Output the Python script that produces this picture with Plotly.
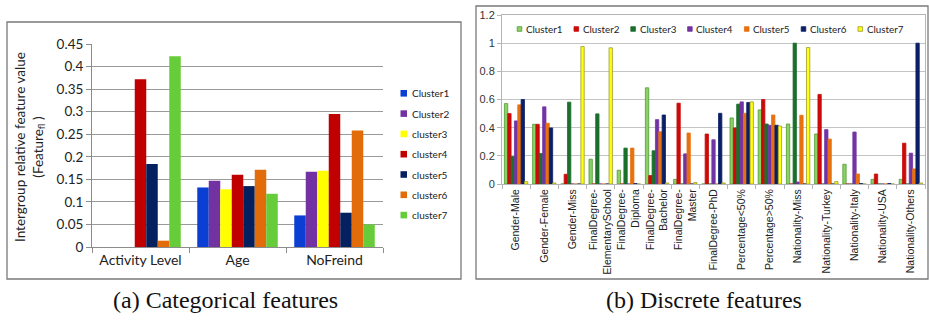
import plotly.graph_objects as go

W, H = 929, 320

# ---- (a) Categorical features ----
cat_features = ["Activity Level", "Age", "NoFreind"]
cat_names = ["Cluster1", "Cluster2", "cluster3", "cluster4", "cluster5", "cluster6", "cluster7"]
cat_values = [
    [0.0, 0.132, 0.070],
    [0.0, 0.147, 0.167],
    [0.0, 0.128, 0.169],
    [0.372, 0.160, 0.295],
    [0.184, 0.135, 0.076],
    [0.014, 0.171, 0.258],
    [0.423, 0.118, 0.050],
]
cat_colors = ["#0b3fd3", "#7232a2", "#ffff00", "#c00000", "#05205e", "#e36c0a", "#66cc3a"]

# ---- (b) Discrete features ----
disc_features = [
    "Gender-Male", "Gender-Female", "Gender-Miss",
    "FinalDegree-<br>ElementarySchool", "FinalDegree-<br>Diploma",
    "FinalDegree-<br>Bachelor", "FinalDegree-<br>Master", "FinalDegree-PhD",
    "Percentage<50%", "Percentage>50%", "Nationality-Miss", "Nationality-Turkey",
    "Nationality-Italy", "Nationality-USA", "Nationality-Others",
]
disc_names = ["Cluster1", "Cluster2", "Cluster3", "Cluster4", "Cluster5", "Cluster6", "Cluster7"]
disc_c1 = [0.571, 0.424, 0.0, 0.176, 0.098, 0.683, 0.033, 0.0, 0.469, 0.526, 0.426, 0.355, 0.140, 0.033, 0.033]
disc_c2 = [0.500, 0.424, 0.069, 0.0, 0.0, 0.060, 0.574, 0.355, 0.398, 0.600, 0.0, 0.636, 0.0, 0.071, 0.290]
disc_c3 = [0.195, 0.217, 0.581, 0.498, 0.255, 0.236, 0.0, 0.0, 0.567, 0.426, 1.0, 0.0, 0.0, 0.0, 0.0]
disc_c4 = [0.448, 0.548, 0.0, 0.0, 0.0, 0.457, 0.214, 0.314, 0.583, 0.417, 0.014, 0.386, 0.369, 0.0, 0.219]
disc_c5 = [0.562, 0.431, 0.0, 0.0, 0.255, 0.371, 0.362, 0.0, 0.502, 0.490, 0.488, 0.319, 0.071, 0.0, 0.107]
disc_c6 = [0.600, 0.398, 0.0, 0.0, 0.003, 0.490, 0.0, 0.502, 0.579, 0.417, 0.0, 0.0, 0.003, 0.003, 1.0]
disc_c7 = [0.017, 0.007, 0.976, 0.967, 0.0, 0.007, 0.010, 0.007, 0.583, 0.412, 0.969, 0.017, 0.0, 0.0, 0.007]
disc_values = [disc_c1, disc_c2, disc_c3, disc_c4, disc_c5, disc_c6, disc_c7]
disc_colors = ["#8cd165", "#cc0a0a", "#1b6e2c", "#7233a3", "#e8700f", "#0a1f66", "#ffff10"]
disc_lines = ["#4f9a34", "#cc0a0a", "#1b6e2c", "#7233a3", "#e8700f", "#0a1f66", "#9a9a30"]

fig = go.Figure()

for name, vals, col in zip(cat_names, cat_values, cat_colors):
    fig.add_trace(go.Bar(
        x=cat_features, y=vals, name=name, marker=dict(color=col, line=dict(width=0)),
        xaxis="x", yaxis="y", showlegend=False,
    ))

for name, vals, col, lc in zip(disc_names, disc_values, disc_colors, disc_lines):
    fig.add_trace(go.Bar(
        x=disc_features, y=vals, name=name, marker=dict(color=col, line=dict(width=0.8, color=lc)),
        xaxis="x2", yaxis="y2", showlegend=False,
    ))


def px(x):
    return x / W


def py(y):
    return (H - y) / H


sans = "Lato, Open Sans, sans-serif"
arial = "Liberation Sans, Arial, sans-serif"
serif = "Liberation Serif, serif"

shapes = [
    dict(type="rect", xref="paper", yref="paper",
         x0=px(7), x1=px(461), y0=py(279), y1=py(22),
         line=dict(color="#7a7a7a", width=1.3)),
    dict(type="rect", xref="paper", yref="paper",
         x0=px(476), x1=px(928), y0=py(279), y1=py(6),
         line=dict(color="#7a7a7a", width=1.3)),
]
annotations = [
    dict(text="Intergroup relative feature value<br>(Feature<sub>fl</sub> )",
         xref="paper", yref="paper", x=px(29), y=py(147),
         xanchor="center", yanchor="middle", textangle=-90,
         showarrow=False, font=dict(family=sans, size=13.5, color="#222")),
    dict(text="(a) Categorical features", xref="paper", yref="paper",
         x=px(225), y=py(300), xanchor="center", yanchor="middle",
         showarrow=False, font=dict(family=serif, size=24, color="#111")),
    dict(text="(b) Discrete features", xref="paper", yref="paper",
         x=px(704), y=py(300), xanchor="center", yanchor="middle",
         showarrow=False, font=dict(family=serif, size=24, color="#111")),
]

# legend of (a): vertical, right of the plot
for i, (name, col) in enumerate(zip(cat_names, cat_colors)):
    yc = 93.3 + i * 20.3
    shapes.append(dict(type="rect", xref="paper", yref="paper",
                       x0=px(400.5), x1=px(407), y0=py(yc + 3.3), y1=py(yc - 3.3),
                       line=dict(width=0), fillcolor=col))
    annotations.append(dict(text=name, xref="paper", yref="paper",
                            x=px(409.5), y=py(yc), xanchor="left", yanchor="middle",
                            showarrow=False, font=dict(family=sans, size=10, color="#222")))

# legend of (b): horizontal, inside the top of the plot
for i, (name, col, lc) in enumerate(zip(disc_names, disc_colors, disc_lines)):
    xm = 519.5 + i * 56.8
    yc = 29
    shapes.append(dict(type="rect", xref="paper", yref="paper",
                       x0=px(xm - 2.3), x1=px(xm + 2.3), y0=py(yc + 2.3), y1=py(yc - 2.3),
                       line=dict(width=0.8, color=lc), fillcolor=col))
    annotations.append(dict(text=name, xref="paper", yref="paper",
                            x=px(xm + 4.5), y=py(yc), xanchor="left", yanchor="middle",
                            showarrow=False, font=dict(family=sans, size=9.8, color="#222")))

fig.update_layout(
    width=W, height=H,
    margin=dict(l=0, r=0, t=0, b=0, autoexpand=False),
    paper_bgcolor="white", plot_bgcolor="white",
    barmode="group", bargap=0.17, bargroupgap=0,
    showlegend=False,
    xaxis=dict(
        domain=[px(92), px(383)], anchor="y", automargin=False,
        showline=True, linecolor="#8c8c8c", linewidth=1,
        ticks="outside", tickson="boundaries", ticklen=5, tickcolor="#8c8c8c",
        tickfont=dict(family=sans, size=14, color="#222"),
        showgrid=False,
    ),
    yaxis=dict(
        domain=[py(247), py(44)], anchor="x", automargin=False,
        range=[0, 0.45], dtick=0.05,
        showline=True, linecolor="#8c8c8c", linewidth=1,
        ticks="outside", ticklen=5, tickcolor="#8c8c8c",
        showgrid=True, gridcolor="#9a9a9a", gridwidth=1,
        zeroline=False,
        tickfont=dict(family=sans, size=13.5, color="#222"),
    ),
    xaxis2=dict(
        domain=[px(502), px(925)], anchor="y2", automargin=False,
        showline=True, linecolor="#b5b5b5", linewidth=1, mirror=True,
        ticks="outside", tickson="boundaries", ticklen=4, tickcolor="#b5b5b5",
        tickangle=-90,
        tickfont=dict(family=arial, size=10.5, color="#222"),
        showgrid=False,
    ),
    yaxis2=dict(
        domain=[py(184), py(15)], anchor="x2", automargin=False,
        range=[0, 1.2], dtick=0.2,
        showline=True, linecolor="#b5b5b5", linewidth=1, mirror=True,
        ticks="outside", ticklen=4, tickcolor="#b5b5b5",
        showgrid=True, gridcolor="#c4c4c4", gridwidth=1,
        zeroline=False,
        tickfont=dict(family=arial, size=11, color="#333"),
    ),
    shapes=shapes,
    annotations=annotations,
)

fig.write_html(
    "out.html",
    config={"displayModeBar": False, "staticPlot": True},
    post_script="document.body.style.margin='0';document.body.style.overflow='hidden';",
)
